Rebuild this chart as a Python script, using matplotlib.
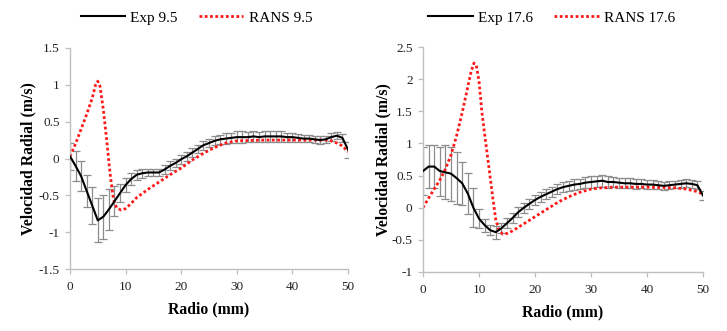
import matplotlib
matplotlib.use("Agg")
import matplotlib.pyplot as plt
import numpy as np

# ---------------- data ----------------
radio_exp = list(range(0, 51))

exp_95 = [0.03, -0.10, -0.24, -0.44, -0.64, -0.84, -0.79, -0.69, -0.58, -0.47,
          -0.36, -0.28, -0.22, -0.20, -0.19, -0.19, -0.19, -0.15, -0.10, -0.06,
          -0.01, 0.03, 0.08, 0.13, 0.18, 0.21, 0.24, 0.26, 0.27, 0.28,
          0.29, 0.29, 0.29, 0.30, 0.29, 0.30, 0.30, 0.30, 0.30, 0.29,
          0.29, 0.28, 0.27, 0.27, 0.26, 0.25, 0.26, 0.29, 0.31, 0.28,
          0.12]
err_95 = [0.18, 0.20, 0.20, 0.22, 0.25, 0.30, 0.30, 0.28, 0.20, 0.12,
          0.10, 0.08, 0.07, 0.06, 0.05, 0.05, 0.05, 0.06, 0.06, 0.06,
          0.06, 0.06, 0.06, 0.06, 0.06, 0.06, 0.06, 0.06, 0.07, 0.07,
          0.08, 0.08, 0.07, 0.08, 0.07, 0.08, 0.08, 0.07, 0.07, 0.06,
          0.06, 0.05, 0.05, 0.05, 0.05, 0.05, 0.05, 0.05, 0.05, 0.05,
          0.11]

radio_rans_95 = [0, 1, 2, 3, 4, 4.6, 5, 5.4, 6, 6.6, 7.2, 7.8, 8.4, 9.2, 10, 11,
                 12, 14, 16, 18, 20, 22, 24, 26, 28, 30, 35, 40, 45, 46, 47, 48,
                 49, 50]
rans_95 = [0.03, 0.20, 0.40, 0.60, 0.82, 1.00, 1.05, 0.98, 0.66, 0.25, -0.20,
           -0.55, -0.67, -0.70, -0.68, -0.61, -0.53, -0.42, -0.32, -0.22,
           -0.13, -0.02, 0.07, 0.15, 0.21, 0.24, 0.25, 0.25, 0.25, 0.25,
           0.24, 0.21, 0.17, 0.09]

exp_176 = [0.57, 0.64, 0.64, 0.57, 0.55, 0.53, 0.46, 0.38, 0.22, 0.00,
           -0.17, -0.27, -0.35, -0.38, -0.32, -0.24, -0.16, -0.07, 0.00, 0.06,
           0.12, 0.17, 0.21, 0.25, 0.29, 0.32, 0.34, 0.36, 0.37, 0.39,
           0.40, 0.41, 0.42, 0.40, 0.40, 0.39, 0.38, 0.38, 0.37, 0.37,
           0.36, 0.36, 0.35, 0.34, 0.35, 0.36, 0.37, 0.38, 0.37, 0.35,
           0.19]
err_176 = [0.37, 0.33, 0.33, 0.38, 0.42, 0.42, 0.40, 0.33, 0.32, 0.30,
           0.15, 0.10, 0.08, 0.10, 0.08, 0.08, 0.08, 0.08, 0.08, 0.08,
           0.08, 0.08, 0.08, 0.08, 0.08, 0.08, 0.08, 0.08, 0.08, 0.09,
           0.09, 0.09, 0.09, 0.09, 0.08, 0.08, 0.08, 0.08, 0.08, 0.07,
           0.07, 0.07, 0.06, 0.06, 0.06, 0.06, 0.06, 0.06, 0.06, 0.06,
           0.07]

radio_rans_176 = [0, 1, 2, 3, 4, 5, 6, 7, 8, 8.6, 9.1, 9.5, 10, 10.5, 11, 11.5,
                  12, 12.5, 13, 13.5, 14.2, 15, 16, 18, 20, 22, 24, 26, 28, 30,
                  32, 34, 40, 45, 47, 48, 49, 50]
rans_176 = [0.00, 0.15, 0.29, 0.43, 0.60, 0.82, 1.12, 1.48, 1.88, 2.12, 2.25,
            2.22, 1.97, 1.50, 1.15, 0.81, 0.47, 0.13, -0.19, -0.33, -0.41,
            -0.40, -0.36, -0.25, -0.14, -0.03, 0.08, 0.17, 0.24, 0.29, 0.31,
            0.32, 0.32, 0.31, 0.29, 0.27, 0.25, 0.21]

xticks = [0, 10, 20, 30, 40, 50]
yticks_95 = [-1.5, -1, -0.5, 0, 0.5, 1, 1.5]
yticks_176 = [-1, -0.5, 0, 0.5, 1, 1.5, 2, 2.5]

# ---------------- figure ----------------
plt.rcParams['font.family'] = ['Liberation Serif', 'DejaVu Serif']

fig = plt.figure(figsize=(7.27, 3.31), dpi=100)
ax1 = fig.add_axes([70/727, 1-269/331, 278/727, 221/331])
ax2 = fig.add_axes([423/727, 1-272/331, 280/727, 225/331])

spine_c = '#bfbfbf'
err_c = '#8c8c8c'


def fmt(v):
    return '%g' % v


def draw(ax, exp, err, rx, rans, yticks, lab_e, lab_r, leg_xy, ylabel_x):
    ax.errorbar(radio_exp, exp, yerr=err, fmt='none', ecolor=err_c,
                elinewidth=0.9, capsize=3.2, capthick=0.9, zorder=1)
    l1, = ax.plot(radio_exp, exp, color='black', lw=1.5, zorder=3,
                  label=lab_e)
    l2, = ax.plot(rx, rans, color='#ff1a1a', lw=2.0, linestyle=(0, (1, 0.9)),
                  zorder=2, label=lab_r)
    ax.set_xlim(0, 50)
    ax.set_ylim(yticks[0], yticks[-1])
    ax.set_xticks(xticks)
    ax.set_yticks(yticks)
    ax.set_xticklabels([fmt(t) for t in xticks])
    ax.set_yticklabels([fmt(t) for t in yticks])
    for s in ['top', 'right']:
        ax.spines[s].set_visible(False)
    for s in ['left', 'bottom']:
        ax.spines[s].set_color(spine_c)
        ax.spines[s].set_linewidth(1.0)
    ax.tick_params(axis='both', direction='out', length=3.5, width=0.9,
                   color=spine_c, labelsize=9.5, labelcolor='#222222')
    ax.tick_params(axis='x', pad=5)
    ax.tick_params(axis='y', pad=4)
    ax.set_xlabel('Radio (mm)', fontsize=11.3, fontweight='bold', labelpad=6)
    ax.set_ylabel('Velocidad Radial (m/s)', fontsize=11.3, fontweight='bold')
    ax.yaxis.set_label_coords(ylabel_x, 0.5)
    ax.legend(handles=[l1, l2], loc='center', bbox_to_anchor=leg_xy,
              ncol=2, frameon=False, fontsize=11, handlelength=2.9,
              handletextpad=0.35, columnspacing=1.4, borderaxespad=0)


draw(ax1, exp_95, err_95, radio_rans_95, rans_95, yticks_95,
     'Exp 9.5', 'RANS 9.5', (0.455, 1.136), -0.122)
draw(ax2, exp_176, err_176, radio_rans_176, rans_176, yticks_176,
     'Exp 17.6', 'RANS 17.6', (0.46, 1.129), -0.114)

fig.savefig('out.png', dpi=100)
